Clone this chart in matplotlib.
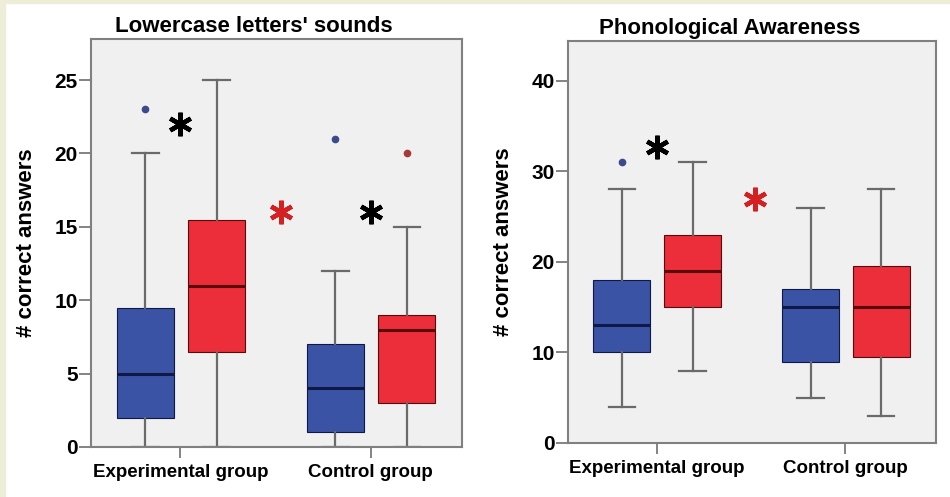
import matplotlib.pyplot as plt
from matplotlib.patches import Rectangle

plt.rcParams['font.family'] = ['Liberation Sans', 'DejaVu Sans']
plt.rcParams['font.weight'] = 'bold'

groups = ['Experimental group', 'Control group']
box_colors = ['#3a53a4', '#ec2d3a']
med_colors = ['#101848', '#5a0a0a']
flier_colors = ['#3b4a8a', '#a83838']

# left panel: lowercase letters' sounds  (q1, med, q3, low, high, outliers)
letters_titles = "Lowercase letters' sounds"
letters_q1 = [2, 6.5, 1, 3]
letters_med = [5, 11, 4, 8]
letters_q3 = [9.5, 15.5, 7, 9]
letters_lo = [0, 0, 0, 0]
letters_hi = [20, 25, 12, 15]
letters_fliers = [[23], [], [21], [20]]
letters_star_x = [0.0, 0.53, 1.0]
letters_star_y = [22.0, 16.0, 16.0]
letters_star_c = ['black', '#d42020', 'black']

# right panel: phonological awareness
phon_titles = "Phonological Awareness"
phon_q1 = [10, 15, 9, 9.5]
phon_med = [13, 19, 15, 15]
phon_q3 = [18, 23, 17, 19.5]
phon_lo = [4, 8, 5, 3]
phon_hi = [28, 31, 26, 28]
phon_fliers = [[31], [], [], []]
phon_star_x = [0.0, 0.52]
phon_star_y = [32.7, 27.0]
phon_star_c = ['black', '#d42020']

fig = plt.figure(figsize=(9.5, 4.97), dpi=100, facecolor='white')
# cream frame strips of the original screenshot
fig.patches.append(Rectangle((0, 0), 5 / 950, 1, transform=fig.transFigure, color='#eeeed8', zorder=0))
fig.patches.append(Rectangle((0, 1 - 3 / 497), 1, 3 / 497, transform=fig.transFigure, color='#eeeed8', zorder=0))


def panel(rect, title, q1, med, q3, lo, hi, fliers, ymax, yticks,
          star_x, star_y, star_c, lab_x):
    ax = fig.add_axes(rect)
    ax.set_facecolor('#f0f0f0')
    stats = []
    for i in range(4):
        stats.append(dict(q1=q1[i], med=med[i], q3=q3[i], whislo=lo[i],
                          whishi=hi[i], fliers=fliers[i]))
    pos = [-0.185, 0.19, 0.815, 1.19]
    for i in range(4):
        c = i % 2
        ax.bxp([stats[i]], positions=[pos[i]], widths=0.30, patch_artist=True,
               manage_ticks=False,
               boxprops=dict(facecolor=box_colors[c], edgecolor=med_colors[c], linewidth=0.8),
               medianprops=dict(color=med_colors[c], linewidth=2.2),
               whiskerprops=dict(color='#6a6a6a', linewidth=1.6),
               capprops=dict(color='#6a6a6a', linewidth=1.6),
               capwidths=0.14,
               flierprops=dict(marker='o', markersize=4.5, markerfacecolor=flier_colors[c],
                               markeredgecolor=flier_colors[c]))
    for x, y, c in zip(star_x, star_y, star_c):
        ax.plot(x, y, marker=(6, 2, 0), markersize=17, markeredgewidth=3.2,
                color=c, linestyle='none')
    ax.set_xlim(-0.47, 1.48)
    ax.set_ylim(0, ymax)
    ax.set_yticks(yticks)
    ax.set_xticks([0, 1])
    ax.set_xticklabels(groups, fontsize=13.5, fontweight='bold')
    ax.tick_params(axis='y', labelsize=15, length=9, width=1.3, color='#7a7a7a', pad=0.5)
    ax.tick_params(axis='x', length=8, width=1.3, color='#7a7a7a', pad=4)
    for s in ax.spines.values():
        s.set_color('#808080')
        s.set_linewidth(1.5)
    ax.set_title(title, x=0.44, fontsize=16, fontweight='bold', pad=5)
    ax.set_ylabel('# correct answers', fontsize=16, fontweight='bold')
    ax.yaxis.set_label_coords(lab_x, 0.5)
    return ax


panel([91 / 950, 1 - 447 / 497, 371 / 950, 408 / 497], letters_titles,
      letters_q1, letters_med, letters_q3, letters_lo, letters_hi, letters_fliers,
      27.8, [0, 5, 10, 15, 20, 25], letters_star_x, letters_star_y, letters_star_c, -0.146)
panel([568 / 950, 1 - 443 / 497, 368 / 950, 402 / 497], phon_titles,
      phon_q1, phon_med, phon_q3, phon_lo, phon_hi, phon_fliers,
      44.4, [0, 10, 20, 30, 40], phon_star_x, phon_star_y, phon_star_c, -0.147)

fig.savefig('out.png', dpi=100, facecolor=fig.get_facecolor())
